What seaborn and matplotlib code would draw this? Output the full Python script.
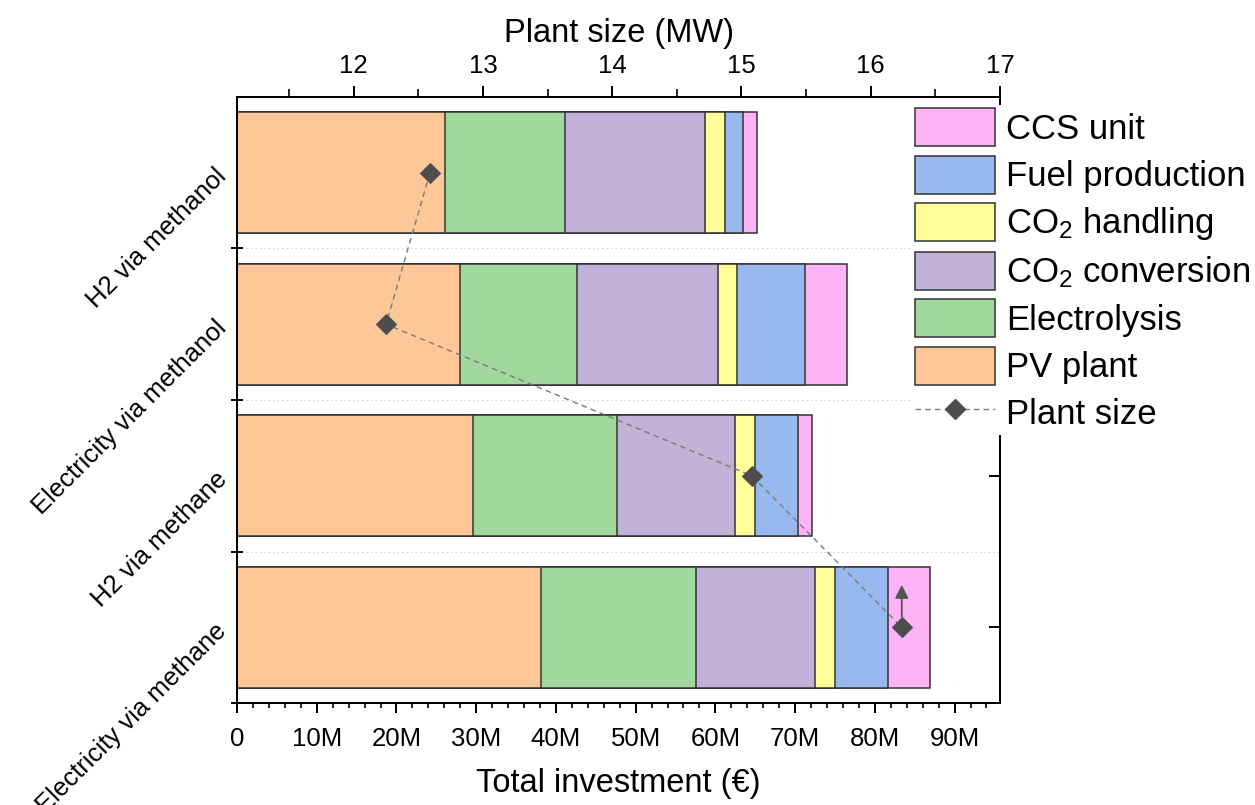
import numpy as np
import matplotlib
matplotlib.use("Agg")
import matplotlib.pyplot as plt
from matplotlib.ticker import AutoMinorLocator, FuncFormatter, FixedLocator
from matplotlib.patches import Patch
from matplotlib.lines import Line2D
import seaborn as sns

# Investment breakdown per route (million €)
routes = ["H2 via methanol", "Electricity via methanol", "H2 via methane", "Electricity via methane"]
pv_plant = [26.1, 28.0, 29.6, 38.1]
electrolysis = [15.0, 14.65, 18.1, 19.45]
co2_conversion = [17.65, 17.63, 14.8, 14.9]
co2_handling = [2.47, 2.45, 2.5, 2.5]
fuel_production = [2.2, 8.56, 5.33, 6.74]
ccs_unit = [1.74, 5.22, 1.78, 5.18]

# Plant size per route (MW)
plant_size_mw = [12.59, 12.25, 15.08, 16.24]

component_labels = ["PV plant", "Electrolysis", "CO$_2$ conversion",
                    "CO$_2$ handling", "Fuel production", "CCS unit"]
component_colors = ["#FDC797", "#A0D89E", "#C3B2D7", "#FFFE99", "#97B9EF", "#FDB3F6"]

size_ticks = [12, 13, 14, 15, 16, 17]

sns.set_style("ticks")
plt.rcParams["font.family"] = ["Liberation Sans", "DejaVu Sans"]
plt.rcParams["mathtext.fontset"] = "custom"
plt.rcParams["mathtext.rm"] = "Liberation Sans"
plt.rcParams["mathtext.it"] = "Liberation Sans:italic"
plt.rcParams["mathtext.bf"] = "Liberation Sans:bold"
for key in ["text.color", "axes.labelcolor", "xtick.color", "ytick.color", "axes.edgecolor"]:
    plt.rcParams[key] = "black"

edge = "#333333"
marker_col = "#4d4d4d"
line_col = "#7a7a7a"

fig = plt.figure(figsize=(12.55, 8.05), dpi=100)
ax = fig.add_axes([237 / 1255, 1 - 703 / 805, (1000 - 237) / 1255, (703 - 97) / 805])

# Stacked bars: draw cumulative totals from the longest layer down
components = np.array([pv_plant, electrolysis, co2_conversion, co2_handling, fuel_production, ccs_unit])
cumulative = np.cumsum(components, axis=0)
for k in reversed(range(len(components))):
    sns.barplot(x=cumulative[k], y=routes, order=routes, orient="y",
                color=component_colors[k], saturation=1, edgecolor=edge,
                linewidth=1.1, width=0.8, errorbar=None, ax=ax)

ax.set_xlim(0, 95.7)
ax.set_ylabel("")
ax.set_xlabel("Total investment (€)", fontsize=23.5, labelpad=12)
ax.xaxis.set_major_locator(FixedLocator(np.arange(0, 100, 10)))
ax.xaxis.set_minor_locator(AutoMinorLocator(5))
ax.xaxis.set_major_formatter(FuncFormatter(lambda v, p: "0" if v == 0 else f"{v:.0f}M"))
ax.tick_params(axis="x", which="major", direction="out", length=7.2, width=1.4,
               pad=10, labelsize=18.5)
ax.tick_params(axis="x", which="minor", direction="out", length=3.6, width=1.2)

# Category boundaries: crossing ticks on the left and faint dotted separators
ax.yaxis.set_minor_locator(FixedLocator([0.5, 1.5, 2.5, 3.5]))
ax.tick_params(axis="y", which="major", length=0, pad=10, labelsize=18.5,
               left=True, right=False)
ax.tick_params(axis="y", which="minor", direction="inout", length=8, width=1.4,
               left=True, right=False)
ax.grid(axis="y", which="minor", color="#d4d4d4", linestyle=(0, (1.5, 2.5)), linewidth=0.8)
ax.grid(axis="x", visible=False)
for sp in ax.spines.values():
    sp.set_visible(True)
    sp.set_linewidth(1.4)
    sp.set_color("black")

# Plant size on the top axis
ax2 = ax.twiny()
sns.lineplot(x=plant_size_mw, y=np.arange(len(routes)), sort=False, estimator=None,
             ax=ax2, color=line_col, linewidth=1.0, linestyle=(0, (4, 3)),
             marker="D", markersize=10, markerfacecolor=marker_col,
             markeredgecolor=marker_col, legend=False)
ax2.annotate("", xy=(plant_size_mw[3], 3 - 0.28), xytext=(plant_size_mw[3], 3 - 0.07),
             arrowprops=dict(arrowstyle="-|>", color="#555555", lw=1.3,
                             mutation_scale=20, shrinkA=0, shrinkB=0))
ax2.set_xlim(11.097, 17.0)
ax2.xaxis.set_major_locator(FixedLocator(size_ticks))
ax2.xaxis.set_minor_locator(AutoMinorLocator(2))
ax2.set_xlabel("Plant size (MW)", fontsize=23.5, labelpad=8)
ax2.set_ylabel("")
ax2.tick_params(axis="x", which="major", direction="out", length=8, width=1.4,
                pad=6, labelsize=18.5)
ax2.tick_params(axis="x", which="minor", direction="out", length=5.5, width=1.2)

# Inward ticks at the bar centres on the right side
ax2.yaxis.set_visible(True)
ax2.yaxis.tick_right()
ax2.tick_params(axis="y", which="major", direction="in", length=8, width=1.4,
                labelright=False, labelleft=False, left=False, right=True)
ax2.tick_params(axis="y", which="minor", length=0, left=False, right=False)
ax2.grid(False)
for sp in ax2.spines.values():
    sp.set_linewidth(1.4)
    sp.set_color("black")

ax.set_ylim(3.5, -0.5)

# Legend
handles = [Patch(facecolor=component_colors[k], edgecolor=edge, linewidth=1.1,
                 label=component_labels[k]) for k in reversed(range(len(components)))]
handles.append(Line2D([], [], color=line_col, linewidth=1.0, linestyle=(0, (4, 3)),
                      marker="D", markersize=10, markerfacecolor=marker_col,
                      markeredgecolor=marker_col, label="Plant size"))
leg = ax2.legend(handles=handles, loc="upper left",
                 bbox_to_anchor=(912 / 1255, 1 - 105 / 805), bbox_transform=fig.transFigure,
                 fontsize=25, handlelength=2.28, handleheight=1.3, handletextpad=0.32,
                 labelspacing=0.27, borderpad=0.1, borderaxespad=0, frameon=True,
                 fancybox=False, framealpha=1, edgecolor="none", facecolor="white")

plt.setp(ax.get_yticklabels(), rotation=45, ha="right", va="center",
         rotation_mode="anchor", fontsize=18.5, color="black")

fig.savefig("out.png", dpi=100)
